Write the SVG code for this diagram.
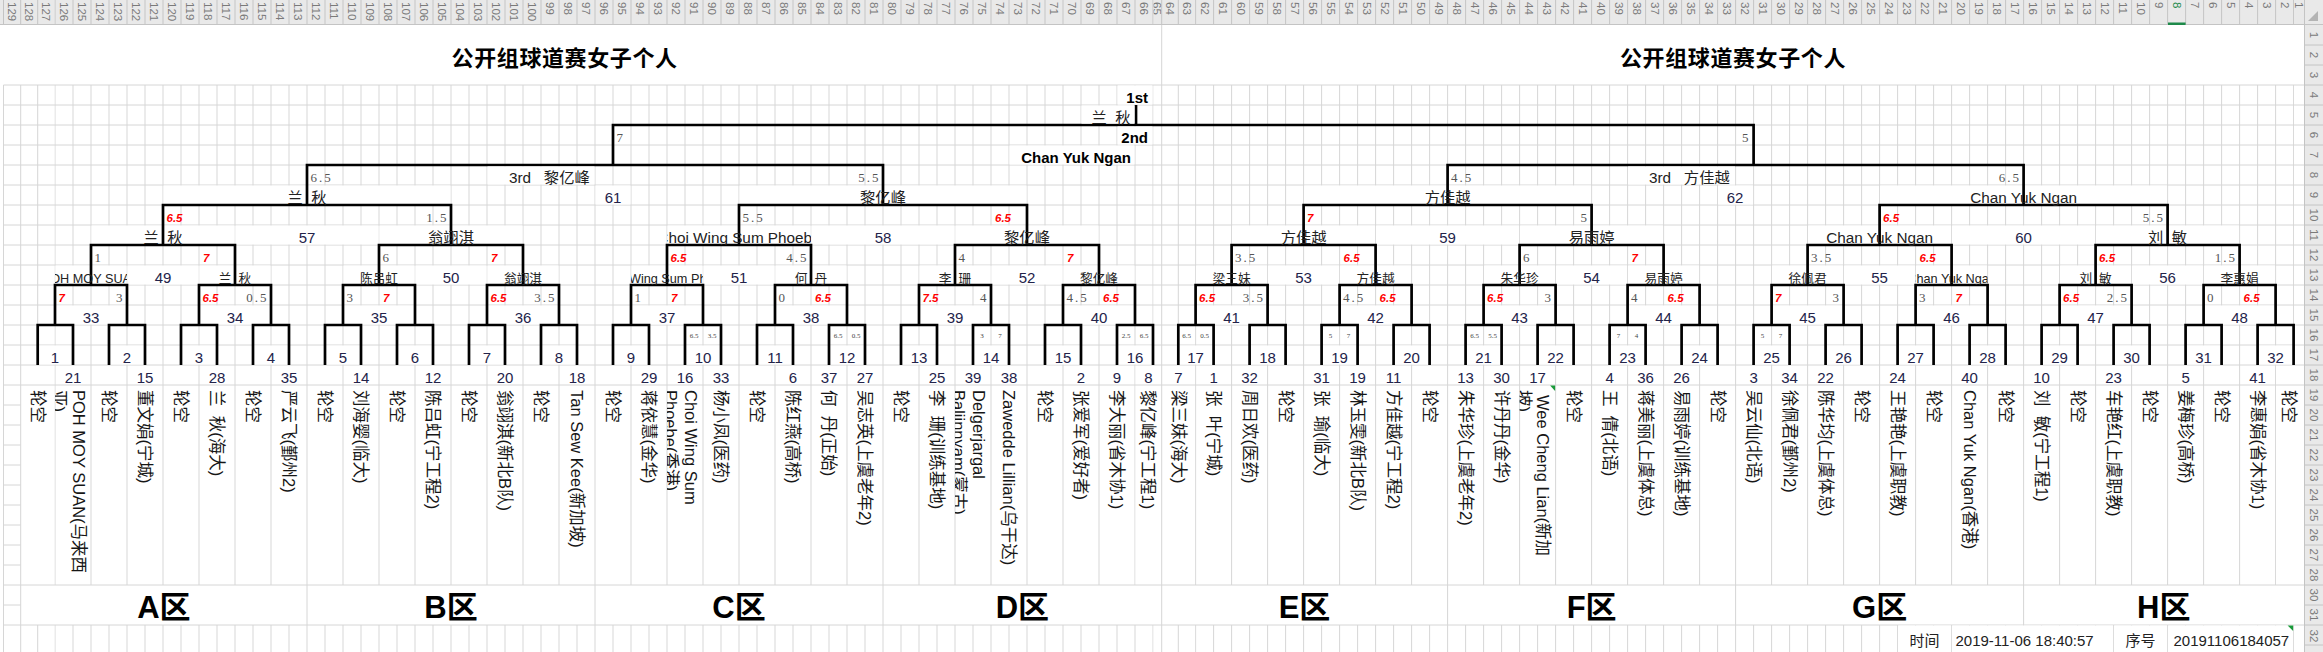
<svg xmlns="http://www.w3.org/2000/svg" width="2323" height="652" viewBox="0 0 2323 652">
<defs>
<style>
text{font-family:"Liberation Sans","Noto Sans CJK SC",sans-serif}
.gl{stroke:#d6d6d6;stroke-width:1;fill:none}
.hs{stroke:#c4c4c4;stroke-width:1;fill:none}
.br{stroke:#000;stroke-width:2.7;fill:none;stroke-linejoin:miter;stroke-linecap:butt}
.mg{fill:#fff}
.hd text{font-size:11.5px;fill:#7a7a7a;dominant-baseline:central}
.hr text{font-size:11.5px;fill:#7a7a7a;dominant-baseline:central;text-anchor:middle}
.nm{font-size:16.5px;fill:#161616;dominant-baseline:central}
.sd{font-size:15px;fill:#23234a;text-anchor:middle}
.mn{font-size:15px;fill:#23234a;text-anchor:middle}
.w2{font-size:12.7px;fill:#222;text-anchor:middle}
.w3{font-size:15.3px;fill:#222;text-anchor:middle}
.l{text-anchor:start}
.sr{font-size:11.5px;font-weight:bold;font-style:italic;fill:#f00}
.sg{font-family:"Liberation Serif",serif;font-size:13px;fill:#555;letter-spacing:2px}
.e{text-anchor:end}
.ss{font-family:"Liberation Serif",serif;font-size:7px;fill:#444;text-anchor:middle}
.bd{font-size:15px;font-weight:bold;fill:#000;text-anchor:end}
.zn{font-size:31px;font-weight:bold;fill:#000;text-anchor:middle}
.tt{font-family:"Noto Sans CJK SC",sans-serif;font-size:22px;font-weight:bold;fill:#000;text-anchor:middle;letter-spacing:0.6px}
.ft{font-size:15px;fill:#222}
.fm{font-size:15px;fill:#222;text-anchor:middle}
</style>
<pattern id="p18L" x="54.5" y="0" width="18" height="20" patternUnits="userSpaceOnUse"><rect width="1" height="20" fill="#d6d6d6"/></pattern>
<pattern id="p18R" x="1195.1" y="0" width="18" height="20" patternUnits="userSpaceOnUse"><rect width="1" height="20" fill="#d6d6d6"/></pattern>
<pattern id="p36L" x="54.5" y="0" width="36" height="20" patternUnits="userSpaceOnUse"><rect width="1" height="20" fill="#d6d6d6"/></pattern>
<pattern id="p36R" x="1195.1" y="0" width="36" height="20" patternUnits="userSpaceOnUse"><rect width="1" height="20" fill="#d6d6d6"/></pattern>
<pattern id="h18L" x="54.5" y="0" width="18" height="25" patternUnits="userSpaceOnUse"><rect width="1" height="25" fill="#c4c4c4"/></pattern>
<pattern id="h18R" x="1195.1" y="0" width="18" height="25" patternUnits="userSpaceOnUse"><rect width="1" height="25" fill="#c4c4c4"/></pattern>
<clipPath id="cw33" clipPathUnits="userSpaceOnUse"><rect x="55" y="265" width="72" height="20"/></clipPath>
<clipPath id="cw37" clipPathUnits="userSpaceOnUse"><rect x="631" y="265" width="72" height="20"/></clipPath>
<clipPath id="cw51" clipPathUnits="userSpaceOnUse"><rect x="667" y="225" width="144" height="20"/></clipPath>
<clipPath id="cw46" clipPathUnits="userSpaceOnUse"><rect x="775" y="265" width="72" height="20"/></clipPath>
<clipPath id="cn2" clipPathUnits="userSpaceOnUse"><rect x="55" y="385" width="36" height="200"/></clipPath>
<clipPath id="cn19" clipPathUnits="userSpaceOnUse"><rect x="667" y="385" width="36" height="200"/></clipPath>
<clipPath id="cn27" clipPathUnits="userSpaceOnUse"><rect x="955" y="385" width="36" height="200"/></clipPath>
<clipPath id="cn43" clipPathUnits="userSpaceOnUse"><rect x="379" y="385" width="36" height="200"/></clipPath>
<clipPath id="c65" clipPathUnits="userSpaceOnUse"><rect x="1153.5" y="0" width="8" height="24"/></clipPath>
<path id="merged" class="mg" d="M38.2 345.5h34.3v19h-34.3z M109.5 345.5h35v19h-35z M181.5 345.5h35v19h-35z M253.5 345.5h35v19h-35z M325.5 345.5h35v19h-35z M397.5 345.5h35v19h-35z M469.5 345.5h35v19h-35z M541.5 345.5h35v19h-35z M613.5 345.5h35v19h-35z M685.5 345.5h35v19h-35z M757.5 345.5h35v19h-35z M829.5 345.5h35v19h-35z M901.5 345.5h35v19h-35z M973.5 345.5h35v19h-35z M1045.5 345.5h35v19h-35z M1117.5 345.5h35v19h-35z
M55.5 305.5h71v19h-71z M199.5 305.5h71v19h-71z M343.5 305.5h71v19h-71z M487.5 305.5h71v19h-71z M631.5 305.5h71v19h-71z M775.5 305.5h71v19h-71z M919.5 305.5h71v19h-71z M1063.5 305.5h71v19h-71z
M55.5 265.5h71v19h-71z M127.5 265.5h71v19h-71z M199.5 265.5h71v19h-71z M343.5 265.5h71v19h-71z M415.5 265.5h71v19h-71z M487.5 265.5h71v19h-71z M631.5 265.5h71v19h-71z M703.5 265.5h71v19h-71z M775.5 265.5h71v19h-71z M919.5 265.5h71v19h-71z M991.5 265.5h71v19h-71z M1063.5 265.5h71v19h-71z
M91.5 225.5h143v19h-143z M235.5 225.5h143v19h-143z M379.5 225.5h143v19h-143z M667.5 225.5h143v19h-143z M811.5 225.5h143v19h-143z M955.5 225.5h143v19h-143z
M163.5 185.5h287v19h-287z M739.5 185.5h287v19h-287z"/>
<path id="bracket" d="M37.7 365V325H73V365 M109 365V325H145V365 M181 365V325H217V365 M253 365V325H289V365 M325 365V325H361V365 M397 365V325H433V365 M469 365V325H505V365 M541 365V325H577V365 M613 365V325H649V365 M685 365V325H721V365 M757 365V325H793V365 M829 365V325H865V365 M901 365V325H937V365 M973 365V325H1009V365 M1045 365V325H1081V365 M1117 365V325H1153V365
M55 325V285H127V325 M199 325V285H271V325 M343 325V285H415V325 M487 325V285H559V325 M631 325V285H703V325 M775 325V285H847V325 M919 325V285H991V325 M1063 325V285H1135V325
M91 285V245H235V285 M379 285V245H523V285 M667 285V245H811V285 M955 285V245H1099V285
M163 245V205H451V245 M739 245V205H1027V245
M307 205V165H883V205"/>
</defs>

<rect width="2323" height="652" fill="#fff"/>

<g id="grid">
<rect x="54.5" y="85" width="1099" height="280" fill="url(#p18L)"/>
<rect x="1195.1" y="85" width="1099" height="280" fill="url(#p18R)"/>
<rect x="54.5" y="625" width="1099" height="27" fill="url(#p18L)"/>
<rect x="1195.1" y="625" width="1099" height="27" fill="url(#p18R)"/>
<rect x="54.5" y="365" width="1081" height="220" fill="url(#p36L)"/>
<rect x="1195.1" y="365" width="1081" height="220" fill="url(#p36R)"/>
<path class="gl" d="M3.5 85V652 M20.7 85V652 M37.7 85V365 M37.7 625V652 M1161.7 25V652 M1178.3 85V365 M1178.3 625V652 M307 585V625 M595 585V625 M883 585V625 M1447.6 585V625 M1735.6 585V625 M2023.6 585V625
M3.5 85H2304 M3.5 105H2304 M3.5 125H2304 M3.5 145H2304 M3.5 165H2304 M3.5 185H2304 M3.5 205H2304 M3.5 225H2304 M3.5 245H2304 M3.5 265H2304 M3.5 285H2304 M3.5 305H2304 M3.5 325H2304 M3.5 345H2304 M3.5 365H2304 M3.5 385H2304 M3.5 585H2304 M3.5 625H2304
M3.5 405H20.7 M3.5 425H20.7 M3.5 445H20.7 M3.5 465H20.7 M3.5 485H20.7 M3.5 505H20.7 M3.5 525H20.7 M3.5 545H20.7 M3.5 565H20.7 M3.5 605H20.7"/>
<use href="#merged"/>
<use href="#merged" transform="translate(1140.6 0)"/>
<rect class="mg" x="1898.1" y="625.5" width="53" height="27"/>
<rect class="mg" x="1952.1" y="625.5" width="161" height="27"/>
<rect class="mg" x="2114.1" y="625.5" width="53" height="27"/>
<rect class="mg" x="2168.1" y="625.5" width="125" height="27"/>
</g>

<g id="headers">
<rect x="0" y="0" width="2323" height="25" fill="#e9e9e9"/>
<rect x="2304.5" y="25" width="18.5" height="627" fill="#e9e9e9"/>
<rect x="54.5" y="0" width="1099" height="24" fill="url(#h18L)"/>
<rect x="1195.1" y="0" width="1099" height="24" fill="url(#h18R)"/>
<path class="hs" d="M3.5 0V24 M20.7 0V24 M37.7 0V24 M1161.7 0V24 M1178.3 0V24 M2304.5 0V652 M0 24.5H2323 M2305 45H2323 M2305 65H2323 M2305 85H2323 M2305 105H2323 M2305 125H2323 M2305 145H2323 M2305 165H2323 M2305 185H2323 M2305 205H2323 M2305 225H2323 M2305 245H2323 M2305 265H2323 M2305 285H2323 M2305 305H2323 M2305 325H2323 M2305 345H2323 M2305 365H2323 M2305 385H2323 M2305 405H2323 M2305 425H2323 M2305 445H2323 M2305 465H2323 M2305 485H2323 M2305 505H2323 M2305 525H2323 M2305 545H2323 M2305 565H2323 M2305 585H2323 M2305 605H2323 M2305 625H2323 M2305 645H2323"/>
<path d="M2318 11V21H2308Z" fill="#b4b4b4"/>
<rect x="2168" y="22.5" width="17.6" height="2.5" fill="#1e8a4a"/>
<g class="hd" transform="rotate(90)">
<text x="2" y="-12">129</text><text x="2" y="-29.2">128</text><text x="2" y="-46.4">127</text><text x="2" y="-64">126</text><text x="2" y="-82">125</text><text x="2" y="-100">124</text><text x="2" y="-118">123</text><text x="2" y="-136">122</text><text x="2" y="-154">121</text><text x="2" y="-172">120</text><text x="2" y="-190">119</text><text x="2" y="-208">118</text><text x="2" y="-226">117</text><text x="2" y="-244">116</text><text x="2" y="-262">115</text><text x="2" y="-280">114</text><text x="2" y="-298">113</text><text x="2" y="-316">112</text><text x="2" y="-334">111</text><text x="2" y="-352">110</text><text x="2" y="-370">109</text><text x="2" y="-388">108</text><text x="2" y="-406">107</text><text x="2" y="-424">106</text><text x="2" y="-442">105</text><text x="2" y="-460">104</text><text x="2" y="-478">103</text><text x="2" y="-496">102</text><text x="2" y="-514">101</text><text x="2" y="-532">100</text>
<text x="2" y="-550">99</text><text x="2" y="-568">98</text><text x="2" y="-586">97</text><text x="2" y="-604">96</text><text x="2" y="-622">95</text><text x="2" y="-640">94</text><text x="2" y="-658">93</text><text x="2" y="-676">92</text><text x="2" y="-694">91</text><text x="2" y="-712">90</text><text x="2" y="-730">89</text><text x="2" y="-748">88</text><text x="2" y="-766">87</text><text x="2" y="-784">86</text><text x="2" y="-802">85</text><text x="2" y="-820">84</text><text x="2" y="-838">83</text><text x="2" y="-856">82</text><text x="2" y="-874">81</text><text x="2" y="-892">80</text><text x="2" y="-910">79</text><text x="2" y="-928">78</text><text x="2" y="-946">77</text><text x="2" y="-964">76</text><text x="2" y="-982">75</text><text x="2" y="-1000">74</text><text x="2" y="-1018">73</text><text x="2" y="-1036">72</text><text x="2" y="-1054">71</text><text x="2" y="-1072">70</text><text x="2" y="-1090">69</text><text x="2" y="-1108">68</text><text x="2" y="-1126">67</text><text x="2" y="-1144">66</text>
<text x="2" y="-1170">64</text><text x="2" y="-1187">63</text><text x="2" y="-1204.6">62</text><text x="2" y="-1222.6">61</text><text x="2" y="-1240.6">60</text><text x="2" y="-1258.6">59</text><text x="2" y="-1276.6">58</text><text x="2" y="-1294.6">57</text><text x="2" y="-1312.6">56</text><text x="2" y="-1330.6">55</text><text x="2" y="-1348.6">54</text><text x="2" y="-1366.6">53</text><text x="2" y="-1384.6">52</text><text x="2" y="-1402.6">51</text><text x="2" y="-1420.6">50</text><text x="2" y="-1438.6">49</text><text x="2" y="-1456.6">48</text><text x="2" y="-1474.6">47</text><text x="2" y="-1492.6">46</text><text x="2" y="-1510.6">45</text><text x="2" y="-1528.6">44</text><text x="2" y="-1546.6">43</text><text x="2" y="-1564.6">42</text><text x="2" y="-1582.6">41</text><text x="2" y="-1600.6">40</text><text x="2" y="-1618.6">39</text><text x="2" y="-1636.6">38</text><text x="2" y="-1654.6">37</text><text x="2" y="-1672.6">36</text><text x="2" y="-1690.6">35</text><text x="2" y="-1708.6">34</text><text x="2" y="-1726.6">33</text><text x="2" y="-1744.6">32</text><text x="2" y="-1762.6">31</text><text x="2" y="-1780.6">30</text><text x="2" y="-1798.6">29</text><text x="2" y="-1816.6">28</text><text x="2" y="-1834.6">27</text><text x="2" y="-1852.6">26</text><text x="2" y="-1870.6">25</text><text x="2" y="-1888.6">24</text><text x="2" y="-1906.6">23</text><text x="2" y="-1924.6">22</text><text x="2" y="-1942.6">21</text><text x="2" y="-1960.6">20</text><text x="2" y="-1978.6">19</text><text x="2" y="-1996.6">18</text><text x="2" y="-2014.6">17</text><text x="2" y="-2032.6">16</text><text x="2" y="-2050.6">15</text><text x="2" y="-2068.6">14</text><text x="2" y="-2086.6">13</text><text x="2" y="-2104.6">12</text><text x="2" y="-2122.6">11</text><text x="2" y="-2140.6">10</text><text x="2" y="-2158.6">9</text><text x="2" y="-2176.6" style="fill:#1e8a4a">8</text><text x="2" y="-2194.6">7</text><text x="2" y="-2212.6">6</text><text x="2" y="-2230.6">5</text><text x="2" y="-2248.6">4</text><text x="2" y="-2266.6">3</text><text x="2" y="-2284.6">2</text><text x="2" y="-2298.8">1</text>
</g>
<g clip-path="url(#c65)"><g class="hd" transform="rotate(90)"><text x="2" y="-1157.4">65</text></g></g>
<g class="hr" transform="rotate(90)">
<text x="35" y="-2314">1</text><text x="55" y="-2314">2</text><text x="75" y="-2314">3</text><text x="95" y="-2314">4</text><text x="115" y="-2314">5</text><text x="135" y="-2314">6</text><text x="155" y="-2314">7</text><text x="175" y="-2314">8</text><text x="195" y="-2314">9</text><text x="215" y="-2314">10</text><text x="235" y="-2314">11</text><text x="255" y="-2314">12</text><text x="275" y="-2314">13</text><text x="295" y="-2314">14</text><text x="315" y="-2314">15</text><text x="335" y="-2314">16</text><text x="355" y="-2314">17</text><text x="375" y="-2314">18</text><text x="395" y="-2314">19</text><text x="415" y="-2314">20</text><text x="435" y="-2314">21</text><text x="455" y="-2314">22</text><text x="475" y="-2314">23</text><text x="495" y="-2314">24</text><text x="515" y="-2314">25</text><text x="535" y="-2314">26</text><text x="555" y="-2314">27</text><text x="575" y="-2314">28</text><text x="595" y="-2314">30</text><text x="615" y="-2314">31</text><text x="636" y="-2314">32</text>
</g>
</g>

<g id="connectors" class="br">
<use href="#bracket"/>
<use href="#bracket" transform="translate(1140.6 0)"/>
<path d="M613 165V125H1753.6V165 M1136 125V105"/>
</g>

<g id="titles">
<text class="tt" x="564.6" y="66">公开组球道赛女子个人</text>
<text class="tt" x="1733" y="66">公开组球道赛女子个人</text>
</g>

<g id="final">
<rect class="mg" x="1117.5" y="85.5" width="35" height="19"/>
<rect class="mg" x="1081.5" y="105.5" width="53" height="18"/>
<rect class="mg" x="1117.5" y="126.5" width="35" height="18"/>
<rect class="mg" x="1009.5" y="145.5" width="125" height="19"/>
<text class="bd" x="1148" y="103">1st</text>
<text class="w3" x="1111" y="123">兰&#160;&#160;秋</text>
<text class="bd" x="1148" y="143">2nd</text>
<text class="bd" x="1131" y="162.5">Chan Yuk Ngan</text>
<text class="sg" x="616.5" y="142">7</text>
<text class="sg e" x="1750.5" y="142">5</text>
</g>

<g id="left-half">
<g id="slot-01"><text class="nm" transform="translate(37.9 390) rotate(90)">轮空</text></g>
<g id="slot-02"><text class="sd" x="73" y="383">21</text><g clip-path="url(#cn2)"><text class="nm" transform="translate(78.5 390) rotate(90)">POH MOY SUAN(马来西</text><text class="nm" transform="translate(59 390) rotate(90)">亚)</text></g></g>
<g id="slot-03"><text class="nm" transform="translate(109 390) rotate(90)">轮空</text></g>
<g id="slot-04"><text class="sd" x="145" y="383">15</text><text class="nm" transform="translate(145 390) rotate(90)">董文娟(宁城)</text></g>
<g id="slot-05"><text class="nm" transform="translate(181 390) rotate(90)">轮空</text></g>
<g id="slot-06"><text class="sd" x="217" y="383">28</text><text class="nm" transform="translate(217 390) rotate(90)">兰&#160;&#160;秋(海大)</text></g>
<g id="slot-07"><text class="nm" transform="translate(253 390) rotate(90)">轮空</text></g>
<g id="slot-08"><text class="sd" x="289" y="383">35</text><text class="nm" transform="translate(289 390) rotate(90)">严云飞(鄞州2)</text></g>
<g id="slot-09"><text class="nm" transform="translate(325 390) rotate(90)">轮空</text></g>
<g id="slot-10"><text class="sd" x="361" y="383">14</text><text class="nm" transform="translate(361 390) rotate(90)">刘海婴(临大)</text></g>
<g id="slot-11"><text class="nm" transform="translate(397 390) rotate(90)">轮空</text></g>
<g id="slot-12"><text class="sd" x="433" y="383">12</text><text class="nm" transform="translate(433 390) rotate(90)">陈吕虹(宁工程2)</text></g>
<g id="slot-13"><text class="nm" transform="translate(469 390) rotate(90)">轮空</text></g>
<g id="slot-14"><text class="sd" x="505" y="383">20</text><text class="nm" transform="translate(505 390) rotate(90)">翁翊淇(新北B队)</text></g>
<g id="slot-15"><text class="nm" transform="translate(541 390) rotate(90)">轮空</text></g>
<g id="slot-16"><text class="sd" x="577" y="383">18</text><text class="nm" transform="translate(577 390) rotate(90)">Tan Sew Kee(新加坡)</text></g>
<g id="slot-17"><text class="nm" transform="translate(613 390) rotate(90)">轮空</text></g>
<g id="slot-18"><text class="sd" x="649" y="383">29</text><text class="nm" transform="translate(649 390) rotate(90)">蒋依慧(金华)</text></g>
<g id="slot-19"><text class="sd" x="685" y="383">16</text><g clip-path="url(#cn19)"><text class="nm" transform="translate(690.5 390) rotate(90)">Choi Wing Sum</text><text class="nm" transform="translate(671 390) rotate(90)">Phoebe(香港)</text></g></g>
<g id="slot-20"><text class="sd" x="721" y="383">33</text><text class="nm" transform="translate(721 390) rotate(90)">杨小凤(医药)</text></g>
<g id="slot-21"><text class="nm" transform="translate(757 390) rotate(90)">轮空</text></g>
<g id="slot-22"><text class="sd" x="793" y="383">6</text><text class="nm" transform="translate(793 390) rotate(90)">陈红燕(高桥)</text></g>
<g id="slot-23"><text class="sd" x="829" y="383">37</text><text class="nm" transform="translate(829 390) rotate(90)">何&#160;&#160;丹(正始)</text></g>
<g id="slot-24"><text class="sd" x="865" y="383">27</text><text class="nm" transform="translate(865 390) rotate(90)">吴志英(上虞老年2)</text></g>
<g id="slot-25"><text class="nm" transform="translate(901 390) rotate(90)">轮空</text></g>
<g id="slot-26"><text class="sd" x="937" y="383">25</text><text class="nm" transform="translate(937 390) rotate(90)">李&#160;&#160;珊(训练基地)</text></g>
<g id="slot-27"><text class="sd" x="973" y="383">39</text><g clip-path="url(#cn27)"><text class="nm" transform="translate(978.5 390) rotate(90)">Delgerjargal</text><text class="nm" transform="translate(959 390) rotate(90)">Baljinnyam(蒙古)</text></g></g>
<g id="slot-28"><text class="sd" x="1009" y="383">38</text><text class="nm" transform="translate(1009 390) rotate(90)">Zawedde Lillian(乌干达)</text></g>
<g id="slot-29"><text class="nm" transform="translate(1045 390) rotate(90)">轮空</text></g>
<g id="slot-30"><text class="sd" x="1081" y="383">2</text><text class="nm" transform="translate(1081 390) rotate(90)">张爱军(爱好者)</text></g>
<g id="slot-31"><text class="sd" x="1117" y="383">9</text><text class="nm" transform="translate(1117 390) rotate(90)">李大丽(省木协1)</text></g>
<g id="slot-32"><text class="sd" x="1148.3" y="383">8</text><text class="nm" transform="translate(1148.3 390) rotate(90)">黎亿峰(宁工程1)</text></g>

<g id="m1"><text class="mn" x="55" y="363">1</text></g>
<g id="m2"><text class="mn" x="127" y="363">2</text></g>
<g id="m3"><text class="mn" x="199" y="363">3</text></g>
<g id="m4"><text class="mn" x="271" y="363">4</text></g>
<g id="m5"><text class="mn" x="343" y="363">5</text></g>
<g id="m6"><text class="mn" x="415" y="363">6</text></g>
<g id="m7"><text class="mn" x="487" y="363">7</text></g>
<g id="m8"><text class="mn" x="559" y="363">8</text></g>
<g id="m9"><text class="mn" x="631" y="363">9</text></g>
<g id="m10"><text class="ss" x="694" y="337.5">6.5</text><text class="ss" x="712" y="337.5">3.5</text><text class="mn" x="703" y="363">10</text></g>
<g id="m11"><text class="mn" x="775" y="363">11</text></g>
<g id="m12"><text class="ss" x="838" y="337.5">6.5</text><text class="ss" x="856" y="337.5">0.5</text><text class="mn" x="847" y="363">12</text></g>
<g id="m13"><text class="mn" x="919" y="363">13</text></g>
<g id="m14"><text class="ss" x="982" y="337.5">3</text><text class="ss" x="1000" y="337.5">7</text><text class="mn" x="991" y="363">14</text></g>
<g id="m15"><text class="mn" x="1063" y="363">15</text></g>
<g id="m16"><text class="ss" x="1126" y="337.5">2.5</text><text class="ss" x="1144" y="337.5">6.5</text><text class="mn" x="1135" y="363">16</text></g>

<g id="m33"><g clip-path="url(#cw33)"><text class="w2" x="91" y="283">POH MOY SUAN</text></g><text class="sr" x="58.5" y="302">7</text><text class="sg e" x="124.5" y="302">3</text><text class="mn" x="91" y="323">33</text></g>
<g id="m34"><text class="w2" x="235" y="283">兰&#160;&#160;秋</text><text class="sr" x="202.5" y="302">6.5</text><text class="sg e" x="268.5" y="302">0.5</text><text class="mn" x="235" y="323">34</text></g>
<g id="m35"><text class="w2" x="379" y="283">陈吕虹</text><text class="sg" x="346.5" y="302">3</text><text class="sr" x="383" y="302">7</text><text class="mn" x="379" y="323">35</text></g>
<g id="m36"><text class="w2" x="523" y="283">翁翊淇</text><text class="sr" x="490.5" y="302">6.5</text><text class="sg e" x="556.5" y="302">3.5</text><text class="mn" x="523" y="323">36</text></g>
<g id="m37"><g clip-path="url(#cw37)"><text class="w2" x="667" y="283">Choi Wing Sum Phoebe</text></g><text class="sg" x="634.5" y="302">1</text><text class="sr" x="671" y="302">7</text><text class="mn" x="667" y="323">37</text></g>
<g id="m38"><text class="w2" x="811" y="283">何&#160;&#160;丹</text><text class="sg" x="778.5" y="302">0</text><text class="sr" x="815" y="302">6.5</text><text class="mn" x="811" y="323">38</text></g>
<g id="m39"><text class="w2" x="955" y="283">李&#160;&#160;珊</text><text class="sr" x="922.5" y="302">7.5</text><text class="sg e" x="988.5" y="302">4</text><text class="mn" x="955" y="323">39</text></g>
<g id="m40"><text class="w2" x="1099" y="283">黎亿峰</text><text class="sg" x="1066.5" y="302">4.5</text><text class="sr" x="1103" y="302">6.5</text><text class="mn" x="1099" y="323">40</text></g>

<g id="m49"><text class="w3" x="163" y="243">兰&#160;&#160;秋</text><text class="sg" x="94.5" y="262">1</text><text class="sr" x="203" y="262">7</text><text class="mn" x="163" y="283">49</text></g>
<g id="m50"><text class="w3" x="451" y="243">翁翊淇</text><text class="sg" x="382.5" y="262">6</text><text class="sr" x="491" y="262">7</text><text class="mn" x="451" y="283">50</text></g>
<g id="m51"><g clip-path="url(#cw51)"><text class="w3" x="739" y="243">Choi Wing Sum Phoebe</text></g><text class="sr" x="670.5" y="262">6.5</text><text class="sg e" x="808.5" y="262">4.5</text><text class="mn" x="739" y="283">51</text></g>
<g id="m52"><text class="w3" x="1027" y="243">黎亿峰</text><text class="sg" x="958.5" y="262">4</text><text class="sr" x="1067" y="262">7</text><text class="mn" x="1027" y="283">52</text></g>

<g id="m57"><text class="w3" x="307" y="203">兰&#160;&#160;秋</text><text class="sr" x="166.5" y="222">6.5</text><text class="sg e" x="448.5" y="222">1.5</text><text class="mn" x="307" y="243">57</text></g>
<g id="m58"><text class="w3" x="883" y="203">黎亿峰</text><text class="sg" x="742.5" y="222">5.5</text><text class="sr" x="995" y="222">6.5</text><text class="mn" x="883" y="243">58</text></g>

<g id="m61"><rect class="mg" x="487.5" y="166.5" width="107" height="18"/><rect class="mg" x="595.5" y="185.5" width="35" height="19"/><text class="sg" x="310.5" y="182">6.5</text><text class="sg e" x="880.5" y="182">5.5</text><text class="w3 l" x="509" y="183">3rd&#160;&#160;&#160;黎亿峰</text><text class="mn" x="613" y="203">61</text></g>
</g>

<g id="right-half" transform="translate(1140.6 0)">
<g id="slot-33"><text class="sd" x="37.9" y="383">7</text><text class="nm" transform="translate(37.9 390) rotate(90)">梁三妹(海大)</text></g>
<g id="slot-34"><text class="sd" x="73" y="383">1</text><text class="nm" transform="translate(73 390) rotate(90)">张&#160;&#160;叶(宁城)</text></g>
<g id="slot-35"><text class="sd" x="109" y="383">32</text><text class="nm" transform="translate(109 390) rotate(90)">周日欢(医药)</text></g>
<g id="slot-36"><text class="nm" transform="translate(145 390) rotate(90)">轮空</text></g>
<g id="slot-37"><text class="sd" x="181" y="383">31</text><text class="nm" transform="translate(181 390) rotate(90)">张&#160;&#160;瑜(临大)</text></g>
<g id="slot-38"><text class="sd" x="217" y="383">19</text><text class="nm" transform="translate(217 390) rotate(90)">林玉雯(新北B队)</text></g>
<g id="slot-39"><text class="sd" x="253" y="383">11</text><text class="nm" transform="translate(253 390) rotate(90)">方佳越(宁工程2)</text></g>
<g id="slot-40"><text class="nm" transform="translate(289 390) rotate(90)">轮空</text></g>
<g id="slot-41"><text class="sd" x="325" y="383">13</text><text class="nm" transform="translate(325 390) rotate(90)">朱华珍(上虞老年2)</text></g>
<g id="slot-42"><text class="sd" x="361" y="383">30</text><text class="nm" transform="translate(361 390) rotate(90)">许丹丹(金华)</text></g>
<g id="slot-43"><text class="sd" x="397" y="383">17</text><g clip-path="url(#cn43)"><text class="nm" transform="translate(402.5 395) rotate(90)">Wee Cheng Lian(新加</text><text class="nm" transform="translate(383 390) rotate(90)">坡)</text></g><path d="M409.5 385.5H414.5V391Z" fill="#1a9a3a"/></g>
<g id="slot-44"><text class="nm" transform="translate(433 390) rotate(90)">轮空</text></g>
<g id="slot-45"><text class="sd" x="469" y="383">4</text><text class="nm" transform="translate(469 390) rotate(90)">王&#160;&#160;倩(北语)</text></g>
<g id="slot-46"><text class="sd" x="505" y="383">36</text><text class="nm" transform="translate(505 390) rotate(90)">蒋美丽(上虞体总)</text></g>
<g id="slot-47"><text class="sd" x="541" y="383">26</text><text class="nm" transform="translate(541 390) rotate(90)">易雨婷(训练基地)</text></g>
<g id="slot-48"><text class="nm" transform="translate(577 390) rotate(90)">轮空</text></g>
<g id="slot-49"><text class="sd" x="613" y="383">3</text><text class="nm" transform="translate(613 390) rotate(90)">吴云仙(北语)</text></g>
<g id="slot-50"><text class="sd" x="649" y="383">34</text><text class="nm" transform="translate(649 390) rotate(90)">徐佩君(鄞州2)</text></g>
<g id="slot-51"><text class="sd" x="685" y="383">22</text><text class="nm" transform="translate(685 390) rotate(90)">陈华均(上虞体总)</text></g>
<g id="slot-52"><text class="nm" transform="translate(721 390) rotate(90)">轮空</text></g>
<g id="slot-53"><text class="sd" x="757" y="383">24</text><text class="nm" transform="translate(757 390) rotate(90)">王艳艳(上虞职教)</text></g>
<g id="slot-54"><text class="nm" transform="translate(793 390) rotate(90)">轮空</text></g>
<g id="slot-55"><text class="sd" x="829" y="383">40</text><text class="nm" transform="translate(829 390) rotate(90)">Chan Yuk Ngan(香港)</text></g>
<g id="slot-56"><text class="nm" transform="translate(865 390) rotate(90)">轮空</text></g>
<g id="slot-57"><text class="sd" x="901" y="383">10</text><text class="nm" transform="translate(901 390) rotate(90)">刘&#160;&#160;敏(宁工程1)</text></g>
<g id="slot-58"><text class="nm" transform="translate(937 390) rotate(90)">轮空</text></g>
<g id="slot-59"><text class="sd" x="973" y="383">23</text><text class="nm" transform="translate(973 390) rotate(90)">车艳红(上虞职教)</text></g>
<g id="slot-60"><text class="nm" transform="translate(1009 390) rotate(90)">轮空</text></g>
<g id="slot-61"><text class="sd" x="1045" y="383">5</text><text class="nm" transform="translate(1045 390) rotate(90)">姜梅珍(高桥)</text></g>
<g id="slot-62"><text class="nm" transform="translate(1081 390) rotate(90)">轮空</text></g>
<g id="slot-63"><text class="sd" x="1117" y="383">41</text><text class="nm" transform="translate(1117 390) rotate(90)">李惠娟(省木协1)</text></g>
<g id="slot-64"><text class="nm" transform="translate(1148.7 390) rotate(90)">轮空</text></g>

<g id="m17"><text class="ss" x="46" y="337.5">6.5</text><text class="ss" x="64" y="337.5">0.5</text><text class="mn" x="55" y="363">17</text></g>
<g id="m18"><text class="mn" x="127" y="363">18</text></g>
<g id="m19"><text class="ss" x="190" y="337.5">5</text><text class="ss" x="208" y="337.5">7</text><text class="mn" x="199" y="363">19</text></g>
<g id="m20"><text class="mn" x="271" y="363">20</text></g>
<g id="m21"><text class="ss" x="334" y="337.5">6.5</text><text class="ss" x="352" y="337.5">5.5</text><text class="mn" x="343" y="363">21</text></g>
<g id="m22"><text class="mn" x="415" y="363">22</text></g>
<g id="m23"><text class="ss" x="478" y="337.5">7</text><text class="ss" x="496" y="337.5">4</text><text class="mn" x="487" y="363">23</text></g>
<g id="m24"><text class="mn" x="559" y="363">24</text></g>
<g id="m25"><text class="ss" x="622" y="337.5">5</text><text class="ss" x="640" y="337.5">7</text><text class="mn" x="631" y="363">25</text></g>
<g id="m26"><text class="mn" x="703" y="363">26</text></g>
<g id="m27"><text class="mn" x="775" y="363">27</text></g>
<g id="m28"><text class="mn" x="847" y="363">28</text></g>
<g id="m29"><text class="mn" x="919" y="363">29</text></g>
<g id="m30"><text class="mn" x="991" y="363">30</text></g>
<g id="m31"><text class="mn" x="1063" y="363">31</text></g>
<g id="m32"><text class="mn" x="1135" y="363">32</text></g>

<g id="m41"><text class="w2" x="91" y="283">梁三妹</text><text class="sr" x="58.5" y="302">6.5</text><text class="sg e" x="124.5" y="302">3.5</text><text class="mn" x="91" y="323">41</text></g>
<g id="m42"><text class="w2" x="235" y="283">方佳越</text><text class="sg" x="202.5" y="302">4.5</text><text class="sr" x="239" y="302">6.5</text><text class="mn" x="235" y="323">42</text></g>
<g id="m43"><text class="w2" x="379" y="283">朱华珍</text><text class="sr" x="346.5" y="302">6.5</text><text class="sg e" x="412.5" y="302">3</text><text class="mn" x="379" y="323">43</text></g>
<g id="m44"><text class="w2" x="523" y="283">易雨婷</text><text class="sg" x="490.5" y="302">4</text><text class="sr" x="527" y="302">6.5</text><text class="mn" x="523" y="323">44</text></g>
<g id="m45"><text class="w2" x="667" y="283">徐佩君</text><text class="sr" x="634.5" y="302">7</text><text class="sg e" x="700.5" y="302">3</text><text class="mn" x="667" y="323">45</text></g>
<g id="m46"><g clip-path="url(#cw46)"><text class="w2" x="811" y="283">Chan Yuk Ngan</text></g><text class="sg" x="778.5" y="302">3</text><text class="sr" x="815" y="302">7</text><text class="mn" x="811" y="323">46</text></g>
<g id="m47"><text class="w2" x="955" y="283">刘&#160;&#160;敏</text><text class="sr" x="922.5" y="302">6.5</text><text class="sg e" x="988.5" y="302">2.5</text><text class="mn" x="955" y="323">47</text></g>
<g id="m48"><text class="w2" x="1099" y="283">李惠娟</text><text class="sg" x="1066.5" y="302">0</text><text class="sr" x="1103" y="302">6.5</text><text class="mn" x="1099" y="323">48</text></g>

<g id="m53"><text class="w3" x="163" y="243">方佳越</text><text class="sg" x="94.5" y="262">3.5</text><text class="sr" x="203" y="262">6.5</text><text class="mn" x="163" y="283">53</text></g>
<g id="m54"><text class="w3" x="451" y="243">易雨婷</text><text class="sg" x="382.5" y="262">6</text><text class="sr" x="491" y="262">7</text><text class="mn" x="451" y="283">54</text></g>
<g id="m55"><text class="w3" x="739" y="243">Chan Yuk Ngan</text><text class="sg" x="670.5" y="262">3.5</text><text class="sr" x="779" y="262">6.5</text><text class="mn" x="739" y="283">55</text></g>
<g id="m56"><text class="w3" x="1027" y="243">刘&#160;&#160;敏</text><text class="sr" x="958.5" y="262">6.5</text><text class="sg e" x="1096.5" y="262">1.5</text><text class="mn" x="1027" y="283">56</text></g>

<g id="m59"><text class="w3" x="307" y="203">方佳越</text><text class="sr" x="166.5" y="222">7</text><text class="sg e" x="448.5" y="222">5</text><text class="mn" x="307" y="243">59</text></g>
<g id="m60"><text class="w3" x="883" y="203">Chan Yuk Ngan</text><text class="sr" x="742.5" y="222">6.5</text><text class="sg e" x="1024.5" y="222">5.5</text><text class="mn" x="883" y="243">60</text></g>

<g id="m62"><rect class="mg" x="487.5" y="166.5" width="107" height="18"/><rect class="mg" x="577.5" y="185.5" width="35" height="19"/><text class="sg" x="310.5" y="182">4.5</text><text class="sg e" x="880.5" y="182">6.5</text><text class="w3 l" x="508.4" y="183">3rd&#160;&#160;&#160;方佳越</text><text class="mn" x="594.4" y="203">62</text></g>
</g>

<g id="zones">
<text class="zn" x="163.9" y="617.5">A区</text>
<text class="zn" x="451" y="617.5">B区</text>
<text class="zn" x="739" y="617.5">C区</text>
<text class="zn" x="1022.4" y="617.5">D区</text>
<text class="zn" x="1304.5" y="617.5">E区</text>
<text class="zn" x="1591.6" y="617.5">F区</text>
<text class="zn" x="1879.6" y="617.5">G区</text>
<text class="zn" x="2163.8" y="617.5">H区</text>
</g>

<g id="footer">
<text class="fm" x="1924.6" y="646">时间</text>
<text class="ft" x="1955.5" y="646">2019-11-06 18:40:57</text>
<text class="fm" x="2140.6" y="646">序号</text>
<text class="ft" x="2173.5" y="646">20191106184057</text>
<path d="M2287.6 625.5H2293.1V631Z" fill="#1a9a3a"/>
</g>
</svg>
